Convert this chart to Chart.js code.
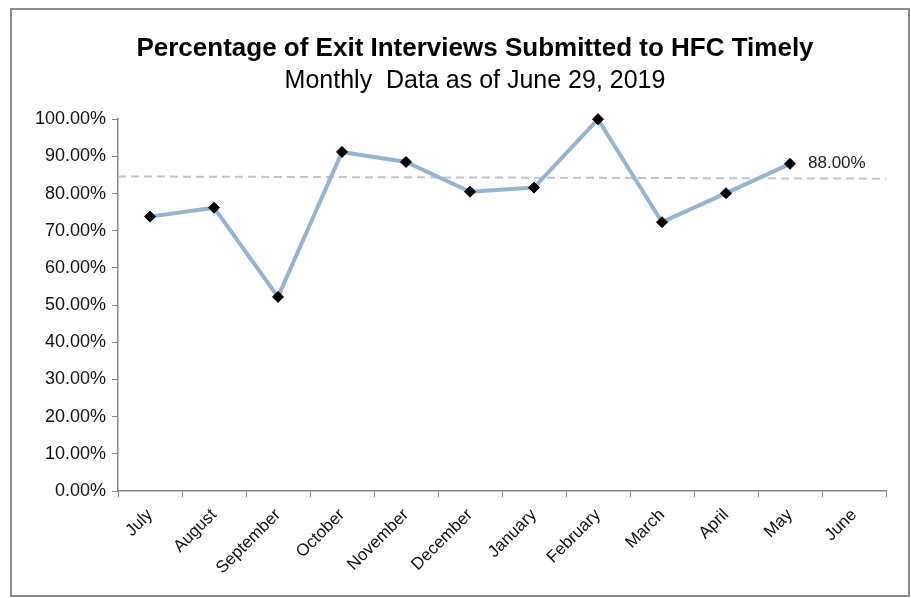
<!DOCTYPE html>
<html lang="en">
<head>
    <meta charset="UTF-8">
    <title>Exit Interviews Submitted Timely</title>
    <script src="https://cdn.jsdelivr.net/npm/chart.js@4.4.1/dist/chart.umd.min.js"></script>
    <style>
        body {
            margin: 0;
            background: #ffffff;
            font-family: 'Liberation Sans', Arial, sans-serif;
        }
        .frame {
            position: absolute;
            left: 10px;
            top: 8px;
            width: 896px;
            height: 585px;
            border: 2px solid #8c8c8c;
        }
    </style>
</head>
<body>
    <div class="frame">
        <canvas id="exitChart"></canvas>
    </div>

    <script>
        // Data
        const months = ['July', 'August', 'September', 'October', 'November', 'December',
                        'January', 'February', 'March', 'April', 'May', 'June'];
        const timelyPct = [73.8, 76.2, 52.2, 91.2, 88.5, 80.5, 81.6, 100, 72.3, 80.1, 88.0, null];
        const referenceLine = [84.6, 84.0]; // dashed line at left / right edge
        const yTicks = [0, 10, 20, 30, 40, 50, 60, 70, 80, 90, 100];

        const axisGrey = '#868686';
        const font = "'Liberation Sans', Arial, sans-serif";

        // label next to the last reported month
        const lastLabel = {
            id: 'lastLabel',
            afterDatasetsDraw(chart) {
                const meta = chart.getDatasetMeta(0);
                const idx = 10;
                const pt = meta.data[idx];
                const ctx = chart.ctx;
                ctx.save();
                ctx.font = '17px ' + font;
                ctx.fillStyle = '#222';
                ctx.textBaseline = 'middle';
                ctx.fillText(timelyPct[idx].toFixed(2) + '%', pt.x + 18, pt.y - 1);
                ctx.restore();
            }
        };

        // the titles sit a bit right of the canvas centre in the original
        const titleShift = {
            id: 'titleShift',
            afterLayout(chart) {
                chart.boxes.forEach(b => {
                    if (b.options && typeof b.options.text === 'string') {
                        b.left += 26;
                        b.right += 26;
                    }
                });
            }
        };

        new Chart(document.getElementById('exitChart'), {
            type: 'line',
            data: {
                labels: months,
                datasets: [
                    {
                        data: timelyPct,
                        borderColor: '#95b3d7',
                        borderWidth: 4,
                        pointStyle: 'rectRot',
                        pointRadius: 5.5,
                        pointBackgroundColor: '#000',
                        pointBorderColor: '#000',
                        pointBorderWidth: 1,
                        tension: 0,
                        clip: false,
                        order: 1
                    },
                    {
                        data: [{ x: 0, y: referenceLine[0] }, { x: 12, y: referenceLine[1] }],
                        xAxisID: 'x2',
                        borderColor: '#c4c4c4',
                        borderWidth: 2,
                        borderDash: [8, 5],
                        pointRadius: 0,
                        clip: false,
                        order: 2
                    }
                ]
            },
            options: {
                responsive: true,
                maintainAspectRatio: false,
                animation: false,
                layout: {
                    padding: { left: 0, right: 22, top: 0, bottom: 0 }
                },
                plugins: {
                    legend: { display: false },
                    tooltip: { enabled: false },
                    title: {
                        display: true,
                        text: 'Percentage of Exit Interviews Submitted to HFC Timely',
                        color: '#000',
                        font: { family: font, size: 26, weight: 'bold' },
                        padding: { top: 23, bottom: 2 }
                    },
                    subtitle: {
                        display: true,
                        text: 'Monthly  Data as of June 29, 2019',
                        color: '#000',
                        font: { family: font, size: 25 },
                        padding: { top: 0, bottom: 23 }
                    }
                },
                scales: {
                    x: {
                        offset: true,
                        grid: {
                            offset: true,
                            drawOnChartArea: false,
                            drawTicks: true,
                            tickLength: 6,
                            color: axisGrey
                        },
                        border: { color: axisGrey, width: 1.5 },
                        ticks: {
                            color: '#111',
                            font: { family: font, size: 17 },
                            minRotation: 45,
                            maxRotation: 45,
                            autoSkip: false,
                            padding: 8
                        },
                        afterFit(scale) { scale.height = 104; }
                    },
                    x2: {
                        type: 'linear',
                        display: false,
                        min: 0,
                        max: 12
                    },
                    y: {
                        min: 0,
                        max: 100,
                        afterBuildTicks(scale) {
                            scale.ticks = yTicks.map(v => ({ value: v }));
                        },
                        grid: {
                            drawOnChartArea: false,
                            drawTicks: true,
                            tickLength: 6,
                            color: axisGrey
                        },
                        border: { color: axisGrey, width: 1.5 },
                        ticks: {
                            color: '#111',
                            font: { family: font, size: 18 },
                            padding: 6,
                            callback: v => v.toFixed(2) + '%'
                        },
                        afterFit(scale) { scale.width = 106; }
                    }
                }
            },
            plugins: [lastLabel, titleShift]
        });
    </script>
</body>
</html>
